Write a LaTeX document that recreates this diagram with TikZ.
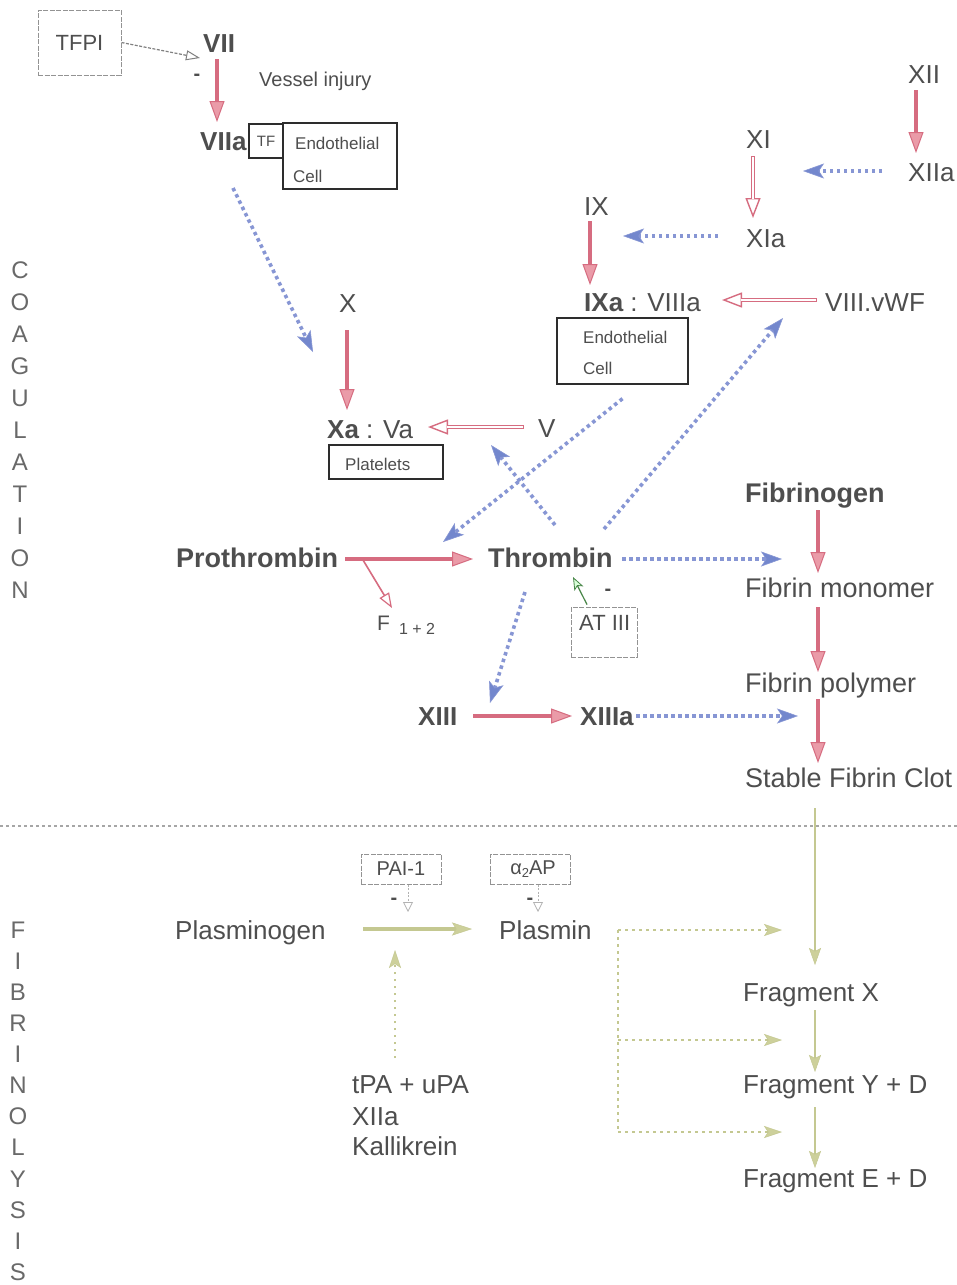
\documentclass[tikz,border=0pt]{standalone}
\usepackage{fontspec}
\setmainfont{Liberation Sans}
\usetikzlibrary{arrows.meta}
\definecolor{txt}{RGB}{78,78,78}
\definecolor{redc}{RGB}{214,108,128}
\definecolor{redf}{RGB}{234,155,168}
\definecolor{bluec}{RGB}{135,150,212}
\definecolor{blueh}{RGB}{115,135,205}
\definecolor{greenc}{RGB}{196,200,145}
\definecolor{greenh}{RGB}{205,208,155}
\definecolor{boxc}{RGB}{45,45,45}
\begin{document}
\begin{tikzpicture}[x=1pt,y=-1pt,
  lbl/.style={inner sep=0pt, anchor=base west, text=txt, font=\fontsize{26}{30}\selectfont},
  lblb/.style={lbl, font=\fontsize{26}{30}\selectfont\bfseries},
  lblf/.style={lbl, font=\fontsize{27}{30}\selectfont},
  lblfb/.style={lbl, font=\fontsize{27}{30}\selectfont\bfseries},
  small/.style={lbl, font=\fontsize{17}{20}\selectfont},
  vlet/.style={inner sep=0pt, text=txt!85, font=\fontsize{24}{24}\selectfont},
  minus/.style={inner sep=0pt, text=txt, font=\fontsize{20}{20}\selectfont\bfseries},
  cellbox/.style={draw=boxc, line width=1.3pt, inner sep=0pt},
  dbox/.style={draw=gray!85, line width=1pt, dash pattern=on 5pt off 1.5pt, inner sep=0pt, text=txt},
  redarr/.style={draw=redc, line width=3.4pt, -{Triangle[length=21pt,width=15pt,fill=redf,line width=1pt]}},
  redopen/.style={draw=redc, line width=3.6pt, -{Triangle[length=20pt,width=15pt,fill=white,line width=1.4pt]},
     postaction={draw=white, line width=1.3pt, -, shorten >=19pt, shorten <=1.2pt}},
  thinopen/.style={draw=redc, line width=1.6pt, -{Triangle[length=15pt,width=11pt,fill=white,line width=1.2pt]}},
  bluearr/.style={draw=bluec, line width=3.6pt, dash pattern=on 3.5pt off 3.5pt, -{Stealth[length=21pt,width=15pt,inset=5pt,fill=blueh,line width=0.6pt]}},
  grayarr/.style={draw=gray, line width=1.2pt, dash pattern=on 3pt off 1.5pt, -{Triangle[length=14pt,width=10pt,fill=white,line width=1pt]}},
  atarr/.style={draw=gray!70!green!80!black, line width=1.2pt, -{Stealth[length=13pt,width=10pt,inset=3pt,fill=green!15!white,line width=0.8pt]}},
  gline/.style={draw=greenc, line width=1.8pt, -{Stealth[length=17pt,width=12pt,inset=3pt,fill=greenh,line width=0.5pt]}},
  gthick/.style={draw=greenc, line width=3.5pt, -{Stealth[length=20pt,width=13pt,inset=4pt,fill=greenh,line width=0.5pt]}},
  gdot/.style={draw=greenc, line width=2.6pt, dash pattern=on 2.5pt off 4.5pt},
  gdotarr/.style={gdot, -{Stealth[length=18pt,width=12pt,inset=4pt,fill=greenh,line width=0.5pt]}},
  smallinh/.style={draw=gray!60, line width=1pt, dash pattern=on 2pt off 1.5pt, -{Triangle[length=10pt,width=10pt,fill=white,line width=0.8pt]}},
  sepline/.style={draw=gray!70, line width=1.4pt, dash pattern=on 3pt off 3pt}
]
\useasboundingbox (0,0) rectangle (957,1285);
\fill[white] (0,0) rectangle (957,1285);

% side labels
\foreach \l [count=\i from 0] in {C,O,A,G,U,L,A,T,I,O,N}
  \node[vlet] (co\i) at (20,{270+32*\i}) {\l};
\foreach \l [count=\i from 0] in {F,I,B,R,I,N,O,L,Y,S,I,S}
  \node[vlet] (fi\i) at (18,{930+31.1*\i}) {\l};

% separator
\draw[sepline] (0,826) -- (957,826);

% ---------- coagulation nodes ----------
\node[dbox, minimum width=83pt, minimum height=65pt, font=\fontsize{22}{24}\selectfont] (tfpi) at (79.5,42.5) {TFPI};
\node[lblb] (vii) at (203,52) {VII};
\node[minus] (m1) at (197,77) {-};
\node[lbl, font=\fontsize{20}{24}\selectfont] (vessel) at (259,86) {Vessel injury};
\node[lblb] (viia) at (200,150) {VIIa};
\node[cellbox, minimum width=34pt, minimum height=34pt, text=txt, font=\fontsize{15}{16}\selectfont] (tf) at (266,141) {TF};
\node[cellbox, minimum width=114pt, minimum height=66pt] (endo1) at (340,156) {};
\node[small] (endo1a) at (295,149) {Endothelial};
\node[small] (endo1b) at (293,182) {Cell};

\node[lbl] (xii) at (908,83) {XII};
\node[lbl] (xiia) at (908,181) {XIIa};
\node[lbl] (xi) at (746,148) {XI};
\node[lbl] (xia) at (746,247) {XIa};
\node[lbl] (ix) at (584,215) {IX};
\node[lbl] (ixa) at (584,311) {{\bfseries IXa} : VIIIa};
\node[lbl] (viii) at (825,311) {VIII.vWF};
\node[cellbox, minimum width=131pt, minimum height=66pt] (endo2) at (622.5,351) {};
\node[small] (endo2a) at (583,343) {Endothelial};
\node[small] (endo2b) at (583,374) {Cell};

\node[lbl] (x) at (339,312) {X};
\node[lbl] (xava) at (327,438) {{\bfseries Xa} : Va};
\node[cellbox, minimum width=114pt, minimum height=34pt] (plt) at (386,462) {};
\node[small] (plttxt) at (345,470) {Platelets};
\node[lbl] (v) at (538,437) {V};

\node[lblfb] (pro) at (176,567) {Prothrombin};
\node[lblfb] (thr) at (488,567) {Thrombin};
\node[lbl, font=\fontsize{21}{24}\selectfont] (f12) at (377,630) {F\hspace{9pt}\raisebox{-4pt}{\fontsize{16}{18}\selectfont 1 + 2}};
\node[dbox, minimum width=66pt, minimum height=50pt] (at3) at (604,632) {};
\node[lbl, font=\fontsize{22}{24}\selectfont] (at3txt) at (579,630) {AT III};
\node[minus] (m2) at (608,592) {-};
\node[lblb] (xiii) at (418,725) {XIII};
\node[lblb] (xiiia) at (580,725) {XIIIa};

\node[lblfb] (fgn) at (745,502) {Fibrinogen};
\node[lblf] (fmono) at (745,597) {Fibrin monomer};
\node[lblf] (fpoly) at (745,692) {Fibrin polymer};
\node[lblf] (clot) at (745,787) {Stable Fibrin Clot};

% ---------- fibrinolysis nodes ----------
\node[lbl] (plg) at (175,939) {Plasminogen};
\node[lbl] (plm) at (499,939) {Plasmin};
\node[dbox, minimum width=80pt, minimum height=30pt, font=\fontsize{20}{22}\selectfont] (pai) at (401,869) {PAI-1};
\node[dbox, minimum width=80pt, minimum height=30pt, font=\fontsize{20}{22}\selectfont] (a2ap) at (530,869) {\hspace{6pt}α\raisebox{-3pt}{\fontsize{13}{14}\selectfont 2}AP};
\node[minus] (m3) at (394,901) {-};
\node[minus] (m4) at (530,901) {-};
\node[lbl] (tpa) at (352,1093) {tPA + uPA};
\node[lbl] (xiiaf) at (352,1125) {XIIa};
\node[lbl] (kal) at (352,1155) {Kallikrein};
\node[lbl] (fragx) at (743,1001) {Fragment X};
\node[lbl] (fragy) at (743,1093) {Fragment Y + D};
\node[lbl] (frage) at (743,1187) {Fragment E + D};

% ---------- red arrows ----------
\draw[redarr] ([shift={(14,7)}]vii.base west) -- ([shift={(17,-28)}]viia.base west);
\draw[redarr] ([shift={(8,7)}]xii.base west) -- ([shift={(8,-28)}]xiia.base west);
\draw[redopen] ([shift={(7,8)}]xi.base west) -- ([shift={(7,-29)}]xia.base west);
\draw[redarr] ([shift={(6,6)}]ix.base west) -- ([shift={(6,-26)}]ixa.base west);
\draw[redarr] ([shift={(8,18)}]x.base west) -- ([shift={(20,-28)}]xava.base west);
\draw[redarr] ([shift={(73,8)}]fgn.base west) -- ([shift={(73,-24)}]fmono.base west);
\draw[redarr] ([shift={(73,10)}]fmono.base west) -- ([shift={(73,-20)}]fpoly.base west);
\draw[redarr] ([shift={(73,7)}]fpoly.base west) -- ([shift={(73,-24)}]clot.base west);
\draw[redopen] ([shift={(-8,-11)}]viii.base west) -- ([shift={(138,-11)}]ixa.base west);
\draw[redopen] ([shift={(-14,-10)}]v.base west) -- ([shift={(101,-11)}]xava.base west);
\draw[redarr] ([shift={(169,-8)}]pro.base west) -- ([shift={(-15,-8)}]thr.base west);
\draw[thinopen] ([shift={(187,-7)}]pro.base west) -- ([shift={(15,-22)}]f12.base west);
\draw[redarr] ([shift={(55,-9)}]xiii.base west) -- ([shift={(-8,-9)}]xiiia.base west);

% ---------- blue dotted arrows ----------
\draw[bluearr] ([shift={(33,38)}]viia.base west) -- ([shift={(-26,40)}]x.base west);
\draw[bluearr] ([shift={(-26,-10)}]xiia.base west) -- ([shift={(57,23)}]xi.base west);
\draw[bluearr] ([shift={(-28,-11)}]xia.base west) -- ([shift={(39,21)}]ix.base west);
\draw[bluearr] ([shift={(0,14)}]endo2.south) -- ([shift={(-45,-25)}]thr.base west);
\draw[bluearr] ([shift={(67,-42)}]thr.base west) -- ([shift={(-47,8)}]v.base west);
\draw[bluearr] ([shift={(116,-38)}]thr.base west) -- ([shift={(-42,7)}]viii.base west);
\draw[bluearr] ([shift={(134,-8)}]thr.base west) -- ([shift={(37,-38)}]fmono.base west);
\draw[bluearr] ([shift={(37,25)}]thr.base west) -- ([shift={(72,-22)}]xiii.base west);
\draw[bluearr] ([shift={(56,-9)}]xiiia.base west) -- ([shift={(53,24)}]fpoly.base west);

% ---------- gray arrows ----------
\draw[grayarr] (tfpi.east) -- ([shift={(-3,6)}]vii.base west);
\draw[atarr] ([shift={(-17,-2)}]at3.north) -- ([shift={(85,10)}]thr.base west);

% ---------- fibrinolysis arrows ----------
\draw[gline] ([shift={(70,21)}]clot.base west) -- ([shift={(72,-36)}]fragx.base west);
\draw[gline] ([shift={(72,9)}]fragx.base west) -- ([shift={(72,-21)}]fragy.base west);
\draw[gline] ([shift={(72,14)}]fragy.base west) -- ([shift={(72,-19)}]frage.base west);
\draw[gthick] ([shift={(188,-10)}]plg.base west) -- ([shift={(-27,-10)}]plm.base west);
\draw[gdotarr] ([shift={(43,-35)}]tpa.base west) -- ([shift={(220,11)}]plg.base west);
\draw[smallinh] ([shift={(7,0)}]pai.south) -- ([shift={(233,-27)}]plg.base west);
\draw[smallinh] ([shift={(8,0)}]a2ap.south) -- ([shift={(39,-27)}]plm.base west);

\coordinate (pt0) at (618,930);
\coordinate (pt1) at (618,1040);
\coordinate (pt2) at (618,1132);
\coordinate (tipcol) at (782,0);
\draw[gdot] (pt0) -- (pt2);
\draw[gdotarr] (pt0) -- (pt0 -| tipcol);
\draw[gdotarr] (pt1) -- (pt1 -| tipcol);
\draw[gdotarr] (pt2) -- (pt2 -| tipcol);
\end{tikzpicture}
\end{document}
